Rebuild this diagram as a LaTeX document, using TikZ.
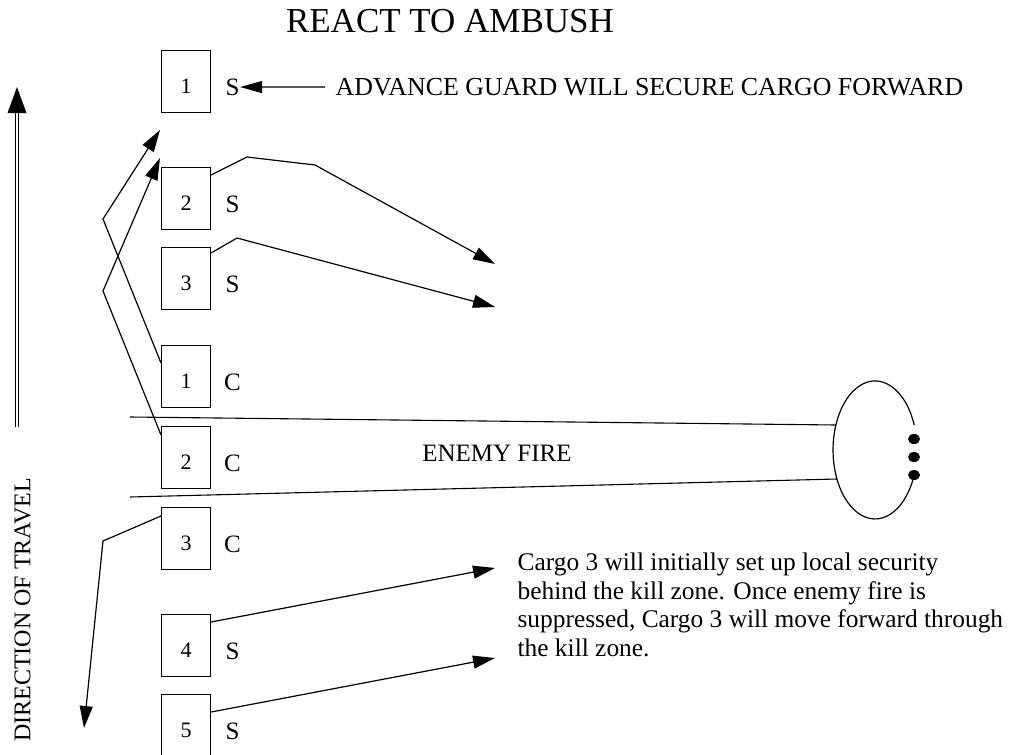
\documentclass[tikz,border=0pt]{standalone}
\usepackage{fontspec}
\setmainfont{Liberation Serif}
\usetikzlibrary{arrows.meta}
\begin{document}
\begin{tikzpicture}[x=1pt,y=-1pt,
  line width=1.2pt,
  box/.style={draw,line width=1.1pt,minimum width=49pt,minimum height=62pt,inner sep=0pt,anchor=north west},
  num/.style={font=\fontsize{22}{26}\selectfont,inner sep=0pt},
  lab/.style={font=\fontsize{25}{30}\selectfont,inner sep=0pt},
  arr/.style={-{Triangle[length=22pt,width=13pt]}},
]
\useasboundingbox (0,0) rectangle (1010,755);

% title
\node[font=\fontsize{35}{40}\selectfont,inner sep=0pt] (title) at (450,21.5) {REACT TO AMBUSH};

% boxes
\foreach \n/\y/\t/\l in {s1/50/1/S, s2/167/2/S, s3/247/3/S, c1/345/1/C, c2/426/2/C, c3/507/3/C, s4/614/4/S, s5/694/5/S}{
  \node[box] (\n) at (161,\y) {};
  \node[num] at ([yshift=-5pt]\n.center) {\t};
  \node[lab] (l\n) at ([xshift=46.5pt,yshift=-5.5pt]\n.center) {\l};
}

% advance guard
\node[lab,anchor=west,font=\fontsize{25.9}{30}\selectfont] (adv) at (335,87) {ADVANCE GUARD WILL SECURE CARGO FORWARD};
\draw[-{Triangle[length=22pt,width=12pt]}] ([xshift=-10pt]adv.west) -- (ls1.east);

% direction of travel
\draw[double,double distance=2.6pt,line width=1pt] (17,427) -- (17,112);
\fill (17,87) -- (26.5,113) -- (7.5,113) -- cycle;
\node[lab,rotate=90,font=\fontsize{24}{28}\selectfont] (dir) at (22.5,610) {DIRECTION OF TRAVEL};

% free ends
\coordinate (t1) at (160,130);
\coordinate (t2) at (160,158);
\coordinate (t3) at (84,728);
\coordinate (t4) at (495,264);
\coordinate (t5) at (495,307);
\coordinate (t6) at (495,568);
\coordinate (t7) at (495,658);

% C vehicles back to front
\draw[arr] ([yshift=-18pt]c1.north west) -- (103,219) -- (t1);
\draw[arr] ([yshift=-9pt]c2.north west) -- (103,291) -- (t2);
\draw[arr] ([yshift=-9pt]c3.north west) -- (103,541) -- (t3);

% security vehicles
\draw[arr] ([yshift=-8pt]s2.north east) -- (247,157) -- (315,165) -- (t4);
\draw[arr] ([yshift=-6pt]s3.north east) -- (237,238) -- (t5);
\draw[arr] ([yshift=-8pt]s4.north east) -- (t6);
\draw[arr] ([yshift=-18pt]s5.north east) -- (t7);

% ambush position
\coordinate (a1) at (914.2,425);
\draw (a1) arc[start angle=21.2,end angle=334.2,x radius=42pt,y radius=69pt];
\foreach \yy in {439,457,475}{\fill (914,\yy) ellipse[x radius=6pt,y radius=5pt];}

% enemy fire lines
\draw[line width=1.1pt] (130,417) -- (836,425);
\draw[line width=1.1pt] (130,497) -- (837,479);
\node[lab] (ef) at (497,453) {ENEMY FIRE};

% note
\node[anchor=north west,inner sep=0pt,align=left,font=\fontsize{25.4}{28.5}\selectfont] (note) at (517,552.5)
  {Cargo 3 will initially set up local security\\behind the kill zone. Once enemy fire is\\suppressed, Cargo 3 will move forward through\\the kill zone.};
\end{tikzpicture}
\end{document}
